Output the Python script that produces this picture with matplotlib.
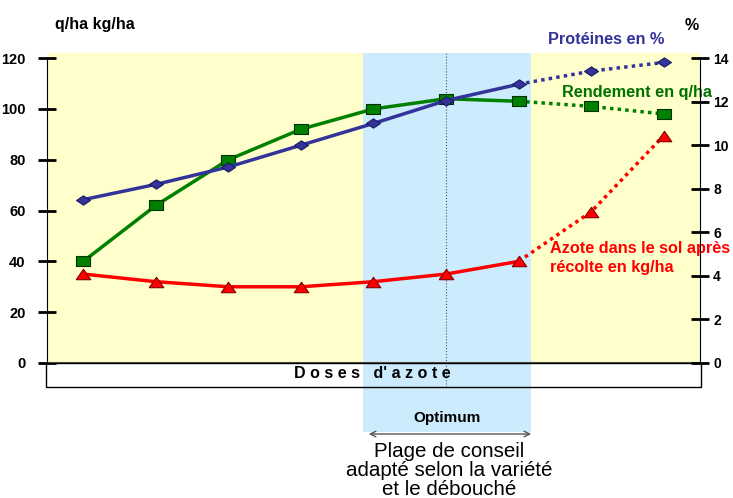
import matplotlib.pyplot as plt
from matplotlib.patches import Rectangle, FancyArrowPatch
import matplotlib.transforms as mtransforms

plt.rcParams['font.family'] = ['Liberation Sans', 'DejaVu Sans']

# doses d'azote (9 levels, no tick labels on the chart)
doses = list(range(9))
rendement = [40, 62, 80, 92, 100, 104, 103, 101, 98]        # q/ha
azote_sol = [35, 32, 30, 30, 32, 35, 40, 59.5, 89.5]        # kg/ha
proteines = [7.5, 8.2, 9.0, 10.0, 11.0, 12.05, 12.8, 13.4, 13.8]  # %
n_solid = 7  # points drawn with solid lines, rest is dotted

left_ticks = [0, 20, 40, 60, 80, 100, 120]
right_ticks = [0, 2, 4, 6, 8, 10, 12, 14]
optimum_range = (3.86, 6.17)
optimum_x = 5

fig = plt.figure(figsize=(7.33, 4.98), dpi=100)
ax = fig.add_axes([47 / 733, 1 - 363 / 498, 653 / 733, 310 / 498])
ax2 = ax.twinx()

ax.set_facecolor('#FFFFCC')
ax.set_xlim(-0.5, 8.5)
ax.set_ylim(0, 122)
ax2.set_ylim(0, 122 * 14 / 120)

trans = mtransforms.blended_transform_factory(ax.transData, ax.transAxes)

# white box below the x axis
ax.add_patch(Rectangle((-0.5, -24 / 310), 9, 24 / 310, transform=trans,
                       facecolor='white', edgecolor='none', clip_on=False, zorder=0.4))
# optimum band
ax.add_patch(Rectangle((optimum_range[0], -69 / 310), optimum_range[1] - optimum_range[0],
                       1 + 69 / 310, transform=trans, facecolor='#CCEBFC',
                       edgecolor='none', clip_on=False, zorder=0.5))
ax.add_patch(Rectangle((-0.52, -24 / 310), 9.04, 24 / 310, transform=trans,
                       fill=False, edgecolor='black', linewidth=1, clip_on=False, zorder=3))
ax.plot([optimum_x, optimum_x], [-24 / 310, 1], transform=trans, color='#555555',
        linestyle=':', linewidth=0.8, clip_on=False, zorder=0.8)
ax.axhline(0, color='#555555', linewidth=1.5, zorder=2)

# flattened markers like the original
rect_marker = [(-1.6, -1), (1.6, -1), (1.6, 1), (-1.6, 1), (-1.6, -1)]
diam_marker = [(-1.5, 0), (0, -1), (1.5, 0), (0, 1), (-1.5, 0)]
tri_marker = [(-1.4, -1), (1.4, -1), (0, 1), (-1.4, -1)]

def draw(axis, y, color, marker, ms, mec):
    axis.plot(doses[:n_solid], y[:n_solid], color=color, linewidth=2.5, zorder=4)
    axis.plot(doses[n_solid - 1:], y[n_solid - 1:], color=color, linewidth=2.5,
              linestyle=(0, (1, 1.2)), zorder=4)
    axis.plot(doses, y, linestyle='none', marker=marker, markersize=ms,
              markerfacecolor=color, markeredgecolor=mec, markeredgewidth=0.8, zorder=5)

draw(ax, azote_sol, '#FF0000', tri_marker, 10.5, '#800000')
draw(ax, rendement, '#008000', rect_marker, 10.5, '#003300')
draw(ax2, proteines, '#333399', diam_marker, 10, '#1a1a60')

# axes styling
for a in (ax, ax2):
    a.spines['top'].set_visible(False)
    a.spines['bottom'].set_visible(False)
    a.set_xticks([])
ax.spines['right'].set_visible(False)
ax2.spines['left'].set_visible(False)
ax.spines['left'].set_bounds(0, 120)
ax2.spines['right'].set_bounds(0, 14)
ax.set_yticks(left_ticks)
ax2.set_yticks(right_ticks)
ax.tick_params(axis='y', direction='inout', length=13, width=2, pad=9)
ax2.tick_params(axis='y', direction='inout', length=13, width=2, pad=3)
for lab in ax.get_yticklabels() + ax2.get_yticklabels():
    lab.set_fontweight('bold')
    lab.set_fontsize(10.5)
for lab in ax2.get_yticklabels():
    lab.set_fontsize(10)

# texts
fig.text(55 / 733, 1 - 25 / 498, 'q/ha kg/ha', fontsize=11.5, fontweight='bold', va='center')
fig.text(692 / 733, 1 - 25 / 498, '%', fontsize=11.5, fontweight='bold', ha='center', va='center')
ax.text(6.4, 127.5, 'Protéines en %', color='#333399', fontsize=11.7, fontweight='bold',
        va='center', clip_on=False)
ax.text(6.6, 106.3, 'Rendement en q/ha', color='#007000', fontsize=11.7, fontweight='bold',
        va='center', zorder=6)
ax.text(6.43, 44.9, 'Azote dans le sol après', color='#FF0000',
        fontsize=11.7, fontweight='bold', va='center', zorder=6)
ax.text(6.43, 37.4, 'récolte en kg/ha', color='#FF0000',
        fontsize=11.7, fontweight='bold', va='center', zorder=6)
ax.text(3.99, -11 / 310, 'D o s e s   d\' a z o t e', transform=trans, fontsize=11.5,
        fontweight='bold', ha='center', va='center', zorder=4)
fig.text(447 / 733, 1 - 418 / 498, 'Optimum', fontsize=11, fontweight='bold',
         ha='center', va='center')
fig.add_artist(FancyArrowPatch(
    (366 / 733, 1 - 434 / 498), (534 / 733, 1 - 434 / 498), transform=fig.transFigure,
    arrowstyle='<->', mutation_scale=10, color='#555555', linewidth=1))
fig.text(449 / 733, 1 - 470 / 498, 'Plage de conseil\nadapté selon la variété\net le débouché',
         fontsize=14.8, ha='center', va='center', linespacing=1.0)

fig.savefig('out.png', dpi=100)
